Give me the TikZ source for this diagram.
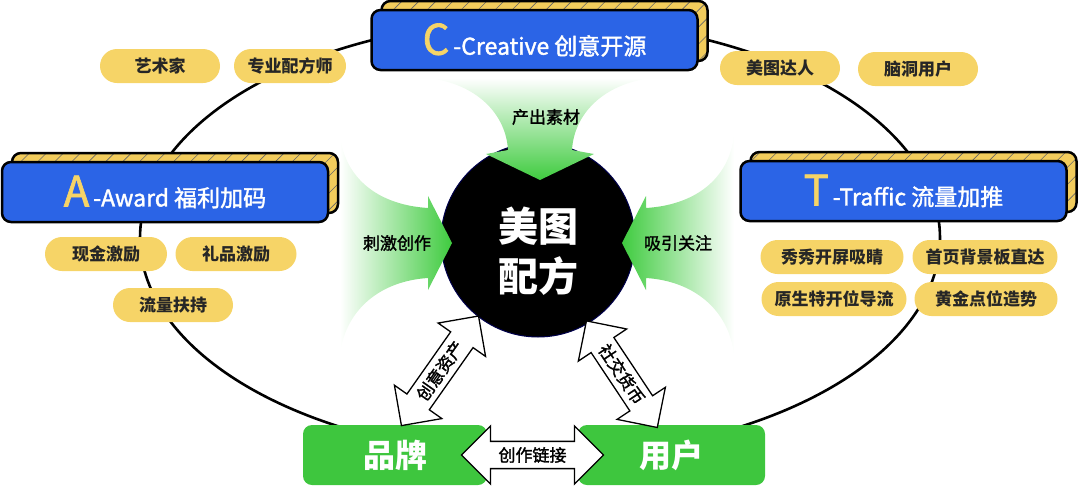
\documentclass[tikz,border=0pt]{standalone}
\usepackage{fontspec}
\setmainfont{Noto Sans CJK SC}
\newfontfamily\medium{Noto Sans CJK SC}[FakeBold=1.6]
\usetikzlibrary{shapes.arrows,patterns.meta,calc}

\definecolor{boxblue}{HTML}{2B64E6}
\definecolor{pillgold}{HTML}{F6D467}
\definecolor{shadegold}{HTML}{F2CC5C}
\definecolor{leafgreen}{HTML}{3EC63E}
\definecolor{flowgreen}{HTML}{3FCB3F}

\newcommand{\bigletter}[1]{{\color{pillgold}\fontsize{42}{42}\selectfont #1}\,}

\tikzset{
  pill/.style={fill=pillgold, rounded corners=17pt, minimum height=34pt, inner sep=0pt, text=black!85, font=\bfseries\fontsize{17}{20}\selectfont},
  letterbox/.style={draw, line width=2.5pt, fill=boxblue, rounded corners=9pt, minimum width=326pt, minimum height=60pt, inner sep=0pt, text=white, font=\medium\fontsize{23}{26}\selectfont},
  backbox/.style={draw, line width=2.5pt, rounded corners=9pt, minimum width=326pt, minimum height=60pt, preaction={fill=shadegold}, pattern={Lines[angle=45,distance=12pt,line width=0.6pt]}, pattern color=black!60},
  partybox/.style={fill=leafgreen, rounded corners=9pt, minimum height=60pt, text=white, font=\bfseries\fontsize{32}{36}\selectfont},
  fatarrow/.style={double arrow, draw, line width=1.3pt, fill=white, double arrow head extend=13pt, minimum width=58pt, inner sep=3pt, font=\medium\fontsize{17}{20}\selectfont},
  flowlabel/.style={font=\medium\fontsize{17}{20}\selectfont}
}

\begin{document}
\begin{tikzpicture}[x=1pt,y=-1pt]
\useasboundingbox (0,0) rectangle (1080,488);

% the big loop
\draw[line width=2.6pt] (540,238) ellipse [x radius=400pt, y radius=218pt];

% who takes part
\node[pill, minimum width=120pt] (artist) at (160,66) {艺术家};
\node[pill, minimum width=112pt] (formulist) at (290,66) {专业配方师};
\node[pill, minimum width=120pt] (talent) at (780,68) {美图达人};
\node[pill, minimum width=120pt] (ideas) at (918,69) {脑洞用户};
\node[pill, minimum width=122pt] (cash) at (106,254) {现金激励};
\node[pill, minimum width=121pt] (gift) at (236,254) {礼品激励};
\node[pill, minimum width=120pt] (boost) at (173,305) {流量扶持};
\node[pill, minimum width=143pt] (splash) at (832,257) {秀秀开屏吸睛};
\node[pill, minimum width=145pt] (homebg) at (985,257) {首页背景板直达};
\node[pill, minimum width=145pt] (native) at (834,299) {原生特开位导流};
\node[pill, minimum width=143pt] (golden) at (986,299) {黄金点位造势};

% C, A, T
\node[backbox] (creativeback) at (544.5,31) {};
\node[letterbox] (creative) at (534.5,40) {\bigletter{C}-Creative 创意开源};
\node[backbox] (awardback) at (175,183) {};
\node[letterbox] (award) at (165,192) {\bigletter{A}-Award 福利加码};
\node[backbox] (trafficback) at (913.5,182) {};
\node[letterbox] (traffic) at (903.5,191) {\bigletter{T}-Traffic 流量加推};

% core
\node[circle, fill=black, draw=black!70!blue, line width=1pt, minimum size=194pt,
  label={[text=white, align=center, yshift=-11pt, font=\bfseries\fontsize{40}{50}\selectfont]center:美图\\配方}] (core) at (538,240) {};

% green funnels
\shade[top color=white, middle color=flowgreen!60, bottom color=flowgreen] (428,78) .. controls (478,84) and (506,115) .. (508,150) -- (486,154) -- (540,180) -- (594,154) -- (572,150) .. controls (574,115) and (602,84) .. (652,78) -- cycle;
\shade[left color=white, middle color=flowgreen!60, right color=flowgreen] (340,135) .. controls (345,180) and (380,205) .. (428,208) -- (428,196) -- (452,243) -- (428,290) -- (428,278) .. controls (380,281) and (345,310) .. (340,355) -- cycle;
\shade[right color=white, middle color=flowgreen!60, left color=flowgreen] (734,135) .. controls (729,180) and (694,205) .. (646,208) -- (646,196) -- (622,243) -- (646,290) -- (646,278) .. controls (694,281) and (729,310) .. (734,355) -- cycle;
\node[flowlabel] (output) at (546,117) {产出素材};
\node[flowlabel] (spur) at (397,243) {刺激创作};
\node[flowlabel] (attract) at (678,243) {吸引关注};

% brand and user
\node[partybox, minimum width=184pt] (brand) at (395,455) {品牌};
\node[partybox, minimum width=187pt] (user) at (671.5,455) {用户};

\path (brand.east) -- (user.west) node[midway, fatarrow, minimum height=142pt] (link) {创作链接};
\path ($(brand.north)+(7,0)$) -- (core.232) node[midway, sloped, fatarrow, minimum height=134pt] (asset) {创意资产};
\path (core.301) -- ($(user.north)+(-16,0)$) node[midway, sloped, fatarrow, minimum height=128pt] (social) {社交货币};
\end{tikzpicture}
\end{document}
